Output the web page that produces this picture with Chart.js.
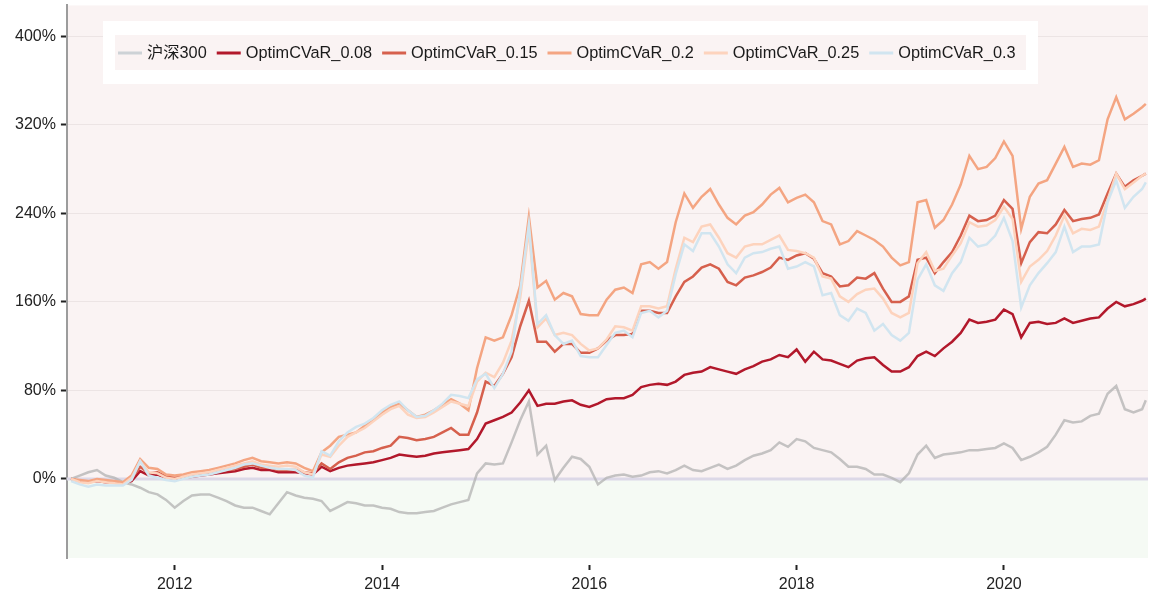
<!DOCTYPE html>
<html>
<head>
<meta charset="utf-8">
<script src="https://cdn.jsdelivr.net/npm/chart.js@4"></script>
<style>
  html, body { margin: 0; padding: 0; background: #fff; }
  #wrap { width: 1158px; height: 600px; }
</style>
</head>
<body>
<div id="wrap"><canvas id="navChart" width="1158" height="600"></canvas></div>
<script>
// monthly sample dates (last one is the final trading day shown)
let dates = [
  '2011-01','2011-02','2011-03','2011-04','2011-05','2011-06','2011-07','2011-08','2011-09','2011-10','2011-11','2011-12',
  '2012-01','2012-02','2012-03','2012-04','2012-05','2012-06','2012-07','2012-08','2012-09','2012-10','2012-11','2012-12',
  '2013-01','2013-02','2013-03','2013-04','2013-05','2013-06','2013-07','2013-08','2013-09','2013-10','2013-11','2013-12',
  '2014-01','2014-02','2014-03','2014-04','2014-05','2014-06','2014-07','2014-08','2014-09','2014-10','2014-11','2014-12',
  '2015-01','2015-02','2015-03','2015-04','2015-05','2015-06','2015-07','2015-08','2015-09','2015-10','2015-11','2015-12',
  '2016-01','2016-02','2016-03','2016-04','2016-05','2016-06','2016-07','2016-08','2016-09','2016-10','2016-11','2016-12',
  '2017-01','2017-02','2017-03','2017-04','2017-05','2017-06','2017-07','2017-08','2017-09','2017-10','2017-11','2017-12',
  '2018-01','2018-02','2018-03','2018-04','2018-05','2018-06','2018-07','2018-08','2018-09','2018-10','2018-11','2018-12',
  '2019-01','2019-02','2019-03','2019-04','2019-05','2019-06','2019-07','2019-08','2019-09','2019-10','2019-11','2019-12',
  '2020-01','2020-02','2020-03','2020-04','2020-05','2020-06','2020-07','2020-08','2020-09','2020-10','2020-11','2020-12',
  '2021-01','2021-02','2021-03','2021-04','2021-05','2021-05-14'
];

// cumulative return, %
let hs300 = [
  0, 3, 6, 8, 3, 1, -3, -5, -8, -12, -14, -19,
  -26, -20, -15, -14, -14, -17, -20, -24, -26, -26, -29, -32,
  -22, -12, -15, -17, -18, -20, -29, -25, -21, -22, -24, -24,
  -26, -27, -30, -31, -31, -30, -29, -26, -23, -21, -19, 5,
  14, 13, 14, 33, 53, 70, 22, 30, -1, 10, 20, 18,
  11, -5, 1, 3, 4, 2, 3, 6, 7, 5, 8, 12,
  8, 7, 10, 13, 9, 12, 17, 21, 23, 26, 33, 29,
  36, 34, 28, 26, 24, 18, 11, 11, 9, 4, 4, 1,
  -3, 5, 22, 30, 19, 22, 23, 24, 26, 26, 27, 28,
  32, 28, 17, 20, 24, 29, 40, 53, 51, 52, 57, 59,
  77, 84, 63, 60, 63, 71
];
let cvar008 = [
  0, -2, -3, -2, -3, -3, -4, -2, 7, 3, 4, 1,
  0, 1, 2, 3, 4, 5, 6, 7, 9, 10, 8, 8,
  6, 6, 6, 5, 4, 11, 7, 10, 12, 13, 14, 15,
  17, 19, 22, 21, 20, 21, 23, 24, 25, 26, 27, 36,
  50, 53, 56, 60, 69, 80, 66, 68, 68, 70, 71, 67,
  65, 68, 72, 73, 73, 76, 83, 85, 86, 85, 88, 94,
  96, 97, 101, 99, 97, 95, 99, 102, 106, 108, 112, 110,
  117, 106, 115, 108, 107, 104, 101, 107, 109, 110, 103, 97,
  97, 101, 111, 115, 111, 118, 124, 132, 144, 141, 142, 144,
  153, 149, 128, 141, 142, 140, 141, 145, 141, 143, 145, 146,
  154, 160, 156, 158, 161, 163
];
let cvar015 = [
  0, -2, -3, -1, -2, -3, -4, 0, 11, 5, 6, 2,
  1, 2, 3, 4, 5, 7, 8, 9, 11, 13, 10, 10,
  8, 8, 8, 6, 5, 14, 9, 15, 19, 21, 24, 25,
  28, 30, 38, 37, 35, 36, 38, 42, 46, 40, 40, 60,
  88, 84, 95, 110, 138, 161, 124, 124, 115, 122, 122, 114,
  114, 118, 125, 130, 130, 131, 152, 152, 150, 150, 165, 178,
  183, 191, 194, 190, 178, 175, 182, 184, 187, 191, 200, 198,
  202, 204, 199, 186, 183, 174, 175, 182, 181, 186, 172, 160,
  160, 165, 198, 200, 186, 196, 205, 220, 238, 233, 234, 238,
  252, 244, 195, 214, 223, 222, 230, 243, 233, 235, 236, 239,
  258, 276, 264, 270, 274, 276
];
let cvar020 = [
  0, -1, -2, 0, -1, -2, -3, 3, 18, 10, 9, 4,
  3, 4, 6, 7, 8, 10, 12, 14, 17, 19, 16, 15,
  14, 15, 14, 10, 7, 24, 30, 38, 40, 42, 48, 53,
  60, 65, 68, 62, 56, 58, 62, 67, 72, 68, 62, 100,
  128, 125, 128, 148, 175, 237, 173, 179, 162, 168, 165, 149,
  148, 148, 162, 171, 173, 168, 194, 196, 190, 196, 232, 258,
  245, 255, 262, 248, 236, 230, 238, 241, 248, 257, 263, 250,
  254, 257, 250, 233, 230, 212, 215, 224, 220, 216, 210, 200,
  193, 196, 250, 252, 227, 234, 248, 266, 292, 280, 282, 290,
  305, 292, 226, 255, 267, 270, 285, 300, 282, 285, 284, 288,
  325, 345, 325, 330, 336, 339
];
let cvar025 = [
  0, -3, -4, -2, -3, -4, -5, 1, 16, 6, 5, 1,
  0, 2, 4, 5, 6, 8, 10, 12, 14, 16, 13, 12,
  11, 12, 11, 6, 4, 22, 20, 30, 38, 42, 46, 52,
  58, 63, 66, 58, 55, 56, 60, 65, 70, 68, 66, 88,
  96, 92, 105, 125, 164, 225, 137, 145, 130, 132, 130, 122,
  116, 118, 126, 138, 137, 134, 156, 156, 154, 156, 190, 218,
  214, 228, 230, 218, 204, 200, 210, 212, 212, 216, 220, 207,
  206, 204, 200, 183, 181, 165, 160, 167, 171, 172, 163, 150,
  146, 150, 195, 205, 188, 190, 202, 213, 232, 228, 229, 234,
  246, 235, 178, 192, 198, 206, 220, 238, 222, 226, 225, 228,
  252, 276, 262, 268, 274, 276
];
let cvar030 = [
  -2, -5, -7, -5, -6, -6, -6, -1, 16, 3, 1, -1,
  -2, 0, 2, 3, 4, 6, 8, 10, 13, 14, 12, 10,
  9, 9, 8, 3, 1, 25, 21, 34, 42, 47, 50, 55,
  62, 67, 70, 62, 56, 57, 62, 68, 76, 75, 73, 90,
  95, 82, 95, 115, 170, 230, 140, 148, 130, 122, 125, 111,
  110, 110, 121, 132, 134, 128, 150, 152, 146, 152, 185, 212,
  206, 222, 222, 210, 194, 186, 200, 204, 205, 208, 210, 190,
  192, 196, 192, 166, 168, 148, 143, 154, 150, 134, 140, 130,
  125, 132, 180, 194, 175, 170, 186, 196, 218, 210, 212, 220,
  236, 215, 155, 175, 186, 195, 205, 228, 205, 210, 210, 212,
  250, 270, 245, 255, 262, 268
];

let seriesNames = ['沪深300', 'OptimCVaR_0.08', 'OptimCVaR_0.15', 'OptimCVaR_0.2', 'OptimCVaR_0.25', 'OptimCVaR_0.3'];
let seriesValues = [hs300, cvar008, cvar015, cvar020, cvar025, cvar030];
let seriesColors = ['rgba(178,178,178,0.75)', '#b2182b', '#d6604d', '#f4a582', '#fdd3bd', '#d1e5f0'];
let legendColors = ['#cdd2d6', '#b2182b', '#d6604d', '#f4a582', '#fdd3bd', '#d1e5f0'];
let yearTicks = [2012, 2014, 2016, 2018, 2020];
let pctTicks = [0, 80, 160, 240, 320, 400];

const FONT = "'Liberation Sans', Arial, 'Noto Sans CJK SC', sans-serif";

function toYear(s) {
  let [y, m, d] = s.split('-').map(Number);
  d = d || 1;
  return y + (m - 1) / 12 + (d - 1) / 365;
}

let datasets = seriesNames.map((name, i) => ({
  label: name,
  data: dates.map((d, j) => ({ x: toYear(d), y: seriesValues[i][j] })),
  borderColor: seriesColors[i],
  borderWidth: 2.5,
  pointRadius: 0,
  tension: 0,
  order: seriesNames.length - i
}));

// pink / green panel halves and the zero line
let panelBg = {
  id: 'panelBg',
  beforeDraw(chart) {
    let { ctx, chartArea: a, scales } = chart;
    let y0 = scales.y.getPixelForValue(0);
    ctx.save();
    ctx.fillStyle = '#faf3f3';
    ctx.fillRect(a.left, a.top, a.right - a.left, y0 - a.top);
    ctx.fillStyle = '#f5faf4';
    ctx.fillRect(a.left, y0, a.right - a.left, a.bottom - y0);
    ctx.restore();
  },
  beforeDatasetsDraw(chart) {
    let { ctx, chartArea: a, scales } = chart;
    let y0 = scales.y.getPixelForValue(0);
    ctx.save();
    ctx.strokeStyle = '#dcd8e7';
    ctx.lineWidth = 3;
    ctx.beginPath();
    ctx.moveTo(a.left, y0);
    ctx.lineTo(a.right, y0);
    ctx.stroke();
    ctx.restore();
  }
};

// boxed legend inside the plot
let boxLegend = {
  id: 'boxLegend',
  afterDatasetsDraw(chart) {
    let ctx = chart.ctx;
    ctx.save();
    ctx.fillStyle = '#ffffff';
    ctx.fillRect(103, 21, 935, 63);
    ctx.fillStyle = '#faf3f3';
    ctx.fillRect(115, 35, 911, 35);
    ctx.font = '16.3px ' + FONT;
    ctx.textBaseline = 'middle';
    let x = 118, y = 53;
    chart.data.datasets.forEach((ds, i) => {
      ctx.strokeStyle = legendColors[i];
      ctx.lineWidth = 3;
      ctx.beginPath();
      ctx.moveTo(x, y);
      ctx.lineTo(x + 24, y);
      ctx.stroke();
      ctx.fillStyle = '#1a1a1a';
      ctx.fillText(ds.label, x + 29, y + 1);
      x += 29 + ctx.measureText(ds.label).width + 10;
    });
    ctx.restore();
  }
};

let ctx = document.getElementById('navChart').getContext('2d');

let chart = new Chart(ctx, {
  type: 'line',
  data: { datasets: datasets },
  plugins: [panelBg, boxLegend],
  options: {
    responsive: false,
    animation: false,
    layout: { padding: { left: 12, top: 1, right: 10, bottom: 0 } },
    plugins: {
      legend: { display: false },
      tooltip: { enabled: false }
    },
    scales: {
      x: {
        type: 'linear',
        min: 2010.96,
        max: 2021.39,
        afterBuildTicks: scale => { scale.ticks = yearTicks.map(v => ({ value: v })); },
        ticks: {
          autoSkip: false,
          maxRotation: 0,
          padding: 7,
          color: '#222',
          font: { family: FONT, size: 16, lineHeight: 1.0 },
          callback: v => String(v)
        },
        grid: {
          drawOnChartArea: false,
          tickLength: 12,
          tickWidth: 2,
          tickColor: '#222',
          tickBorderDash: [0, 7, 5, 30]
        },
        border: { display: false }
      },
      y: {
        min: -71.5,
        max: 428,
        afterBuildTicks: scale => { scale.ticks = pctTicks.map(v => ({ value: v })); },
        ticks: {
          padding: 3,
          color: '#222',
          font: { family: FONT, size: 16, lineHeight: 0.3 },
          callback: v => v + '%'
        },
        grid: {
          color: c => (c.tick && c.tick.value === 0) ? 'rgba(0,0,0,0)' : '#ece4e4',
          lineWidth: 1,
          tickLength: 8,
          tickWidth: 2,
          tickColor: '#222',
          tickBorderDash: [0, 2, 6, 20]
        },
        border: { display: true, color: '#9c9c9c', width: 2 }
      }
    }
  }
});
</script>
</body>
</html>
